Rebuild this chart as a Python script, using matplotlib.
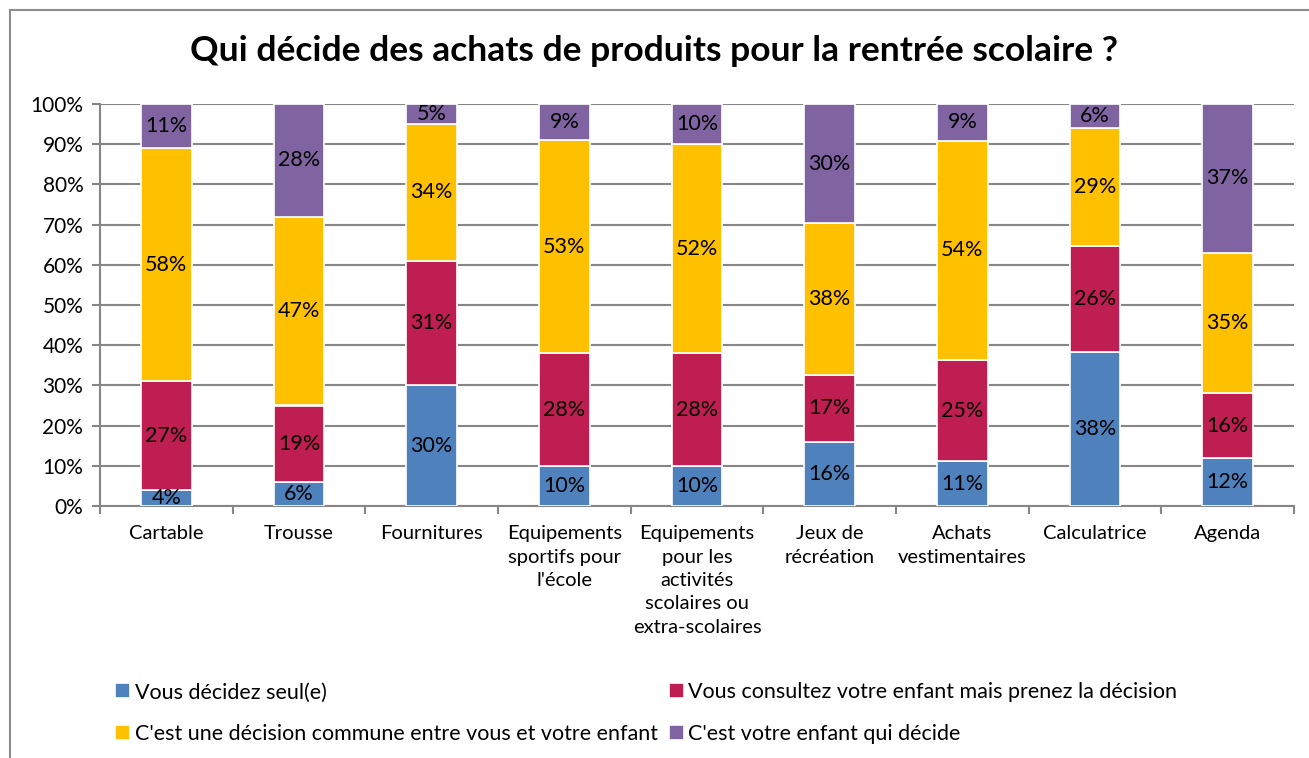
import numpy as np
import matplotlib.pyplot as plt
from matplotlib.patches import Rectangle

plt.rcParams['font.family'] = ['Lato', 'DejaVu Sans']

categories = ["Cartable", "Trousse", "Fournitures",
              "Equipements\nsportifs pour\nl'école",
              "Equipements\npour les\nactivités\nscolaires ou\nextra-scolaires",
              "Jeux de\nrécréation", "Achats\nvestimentaires",
              "Calculatrice", "Agenda"]
seul = [4, 6, 30, 10, 10, 16, 11, 38, 12]
consulte = [27, 19, 31, 28, 28, 17, 25, 26, 16]
commune = [58, 47, 34, 53, 52, 38, 54, 29, 35]
enfant = [11, 28, 5, 9, 10, 30, 9, 6, 37]
series_names = ["Vous décidez seul(e)",
                "Vous consultez votre enfant mais prenez la décision",
                "C'est une décision commune entre vous et votre enfant",
                "C'est votre enfant qui décide"]
colors = ["#4F81BD", "#BE1E51", "#FFC000", "#8064A2"]

W, H = 1309, 758
fig = plt.figure(figsize=(W / 100, H / 100), dpi=100)
ax = fig.add_axes([100 / W, 1 - 506 / H, (1294 - 100) / W, (506 - 104) / H])

# outer chart border (top / left visible)
fig.patches.append(Rectangle((10 / W, -0.1), 1.2, 1 - 10 / H + 0.1,
                             transform=fig.transFigure, fill=False,
                             edgecolor="#8c8c8c", linewidth=1.5))

data = np.array([seul, consulte, commune, enfant], dtype=float)
totals = data.sum(axis=0)
shares = data / totals * 100
x = np.arange(len(categories))
bottom = np.zeros(len(categories))
for vals, raw, name, c in zip(shares, data, series_names, colors):
    ax.bar(x, vals, 0.38, bottom=bottom, color=c, edgecolor="white",
           linewidth=1.2, label=name, zorder=3)
    for xi, b, v, r in zip(x, bottom, vals, raw):
        ax.text(xi, b + v / 2, f"{int(r)}%", ha="center", va="center",
                fontsize=15.5, color="black", zorder=4)
    bottom += vals

ax.set_xlim(-0.5, len(categories) - 0.5)
ax.set_ylim(0, 100)
ax.set_yticks(np.arange(0, 101, 10))
ax.set_yticklabels([f"{v}%" for v in range(0, 101, 10)], fontsize=15)
ax.set_xticks(x)
ax.set_xticklabels(categories, fontsize=14.5, linespacing=1.45, va="top")
ax.set_xticks(np.arange(-0.5, len(categories), 1), minor=True)
ax.tick_params(axis="x", which="major", length=0, pad=14)
ax.tick_params(axis="x", which="minor", length=6, color="#868686", width=1.5)
ax.tick_params(axis="y", length=6, color="#868686", width=1.5, pad=6)
ax.grid(axis="y", color="#868686", linewidth=1.5, zorder=0)
for s in ["top", "right"]:
    ax.spines[s].set_visible(False)
for s in ["left", "bottom"]:
    ax.spines[s].set_color("#868686")
    ax.spines[s].set_linewidth(1.5)

fig.text(0.5, 1 - 51 / H, "Qui décide des achats de produits pour la rentrée scolaire ?",
         ha="center", va="center", fontsize=25.5, fontweight="bold")

# legend laid out row by row, as in the original
handles, labels = ax.get_legend_handles_labels()
order = [0, 2, 1, 3]
fig.legend([handles[i] for i in order], [labels[i] for i in order], ncol=2,
           loc="upper left", bbox_to_anchor=(96 / W, 1 - 663 / H),
           frameon=False, fontsize=15.5, handlelength=0.7, handleheight=0.7,
           handletextpad=0.2, columnspacing=0.5, labelspacing=1.0)

fig.savefig("out.png", dpi=100)
